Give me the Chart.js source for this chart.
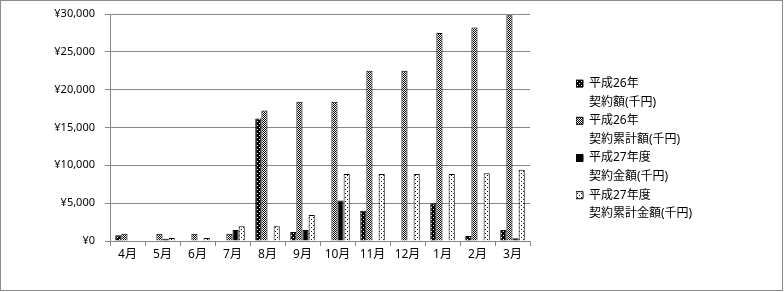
<!DOCTYPE html>
<html>
<head>
<meta charset="utf-8">
<script src="https://cdn.jsdelivr.net/npm/chart.js@4"></script>
<style>
  html, body { margin: 0; padding: 0; background: #fff; }
  #wrap { width: 783px; height: 291px; border: 1px solid #8c8c8c; box-sizing: border-box; position: relative; }
  #c { display: block; }
</style>
</head>
<body>
<div id="wrap"><canvas id="c" width="781" height="289"></canvas></div>
<script>
const categories = ['4月','5月','6月','7月','8月','9月','10月','11月','12月','1月','2月','3月'];
const seriesNames = [
  ['平成26年', '契約額(千円)'],
  ['平成26年', '契約累計額(千円)'],
  ['平成27年度', '契約金額(千円)'],
  ['平成27年度', '契約累計金額(千円)']
];
const h26Amount     = [750, 0, 0, 0, 16200, 1200, 0, 4000, 0, 5000, 650, 1450];
const h26Cumulative = [950, 950, 950, 950, 17250, 18400, 18400, 22500, 22500, 27500, 28200, 29850];
const h27Amount     = [0, 300, 0, 1450, 0, 1450, 5350, 0, 0, 0, 0, 350];
const h27Cumulative = [100, 400, 400, 1950, 1950, 3450, 8850, 8850, 8850, 8850, 8950, 9400];
const yTicks = [0, 5000, 10000, 15000, 20000, 25000, 30000];

function makePattern(size, bg, fg, pts) {
  const cv = document.createElement('canvas');
  cv.width = size; cv.height = size;
  const g = cv.getContext('2d');
  g.fillStyle = bg; g.fillRect(0, 0, size, size);
  g.fillStyle = fg;
  pts.forEach(p => g.fillRect(p[0], p[1], 1, 1));
  return g.createPattern(cv, 'repeat');
}
const ctx = document.getElementById('c').getContext('2d');
const pat1 = makePattern(4, '#000', '#fff', [[0,0],[2,2]]);
const pat2 = makePattern(2, '#fff', '#000', [[0,0],[1,1]]);
const pat4 = makePattern(4, '#fff', '#000', [[0,0],[2,2]]);

const fills = [pat1, pat2, '#000', pat4];
const values = [h26Amount, h26Cumulative, h27Amount, h27Cumulative];
const gridColor = '#868686';
const fontFam = '"Noto Sans", "Noto Sans CJK JP", sans-serif';

new Chart(ctx, {
  type: 'bar',
  data: {
    labels: categories,
    datasets: values.map((v, i) => ({
      label: seriesNames[i].join(''),
      data: v,
      backgroundColor: fills[i],
      borderColor: '#000',
      borderWidth: 1,
      categoryPercentage: 0.7,
      barPercentage: 1.0
    }))
  },
  options: {
    responsive: false,
    animation: false,
    layout: { padding: { top: 13, right: 80, bottom: 0, left: 0 } },
    plugins: {
      tooltip: { enabled: false },
      legend: {
        position: 'right',
        align: 'center',
        maxWidth: 126,
        labels: {
          boxWidth: 7,
          boxHeight: 7,
          padding: 0,
          color: '#000',
          font: { family: fontFam, size: 12, lineHeight: 1.55 },
          generateLabels: (chart) => {
            const items = Chart.defaults.plugins.legend.labels.generateLabels(chart);
            items.forEach((it, i) => { it.text = seriesNames[i]; it.lineWidth = 1; });
            return items;
          }
        }
      }
    },
    scales: {
      x: {
        grid: { drawOnChartArea: false, offset: true, tickLength: 5, color: gridColor },
        border: { color: gridColor },
        ticks: { color: '#000', padding: 1, font: { family: fontFam, size: 12 } },
        afterFit: (s) => { s.height = 49; }
      },
      y: {
        min: 0, max: 30000,
        afterBuildTicks: (s) => { s.ticks = yTicks.map(v => ({ value: v })); },
        grid: { color: gridColor, tickLength: 5 },
        border: { color: gridColor },
        ticks: {
          color: '#000', padding: 10,
          font: { family: fontFam, size: 11 },
          callback: (v) => '¥' + Number(v).toLocaleString('en-US')
        },
        afterFit: (s) => { s.width = 109; s.paddingTop = 3; s.paddingBottom = 3; }
      },
      yR: {
        type: 'linear',
        position: 'right',
        display: true,
        grid: { display: false, drawTicks: false },
        border: { display: false },
        ticks: { display: false },
        afterFit: (s) => { s.width = 46; s.paddingTop = 0; s.paddingBottom = 0; }
      }
    }
  }
});
</script>
</body>
</html>
